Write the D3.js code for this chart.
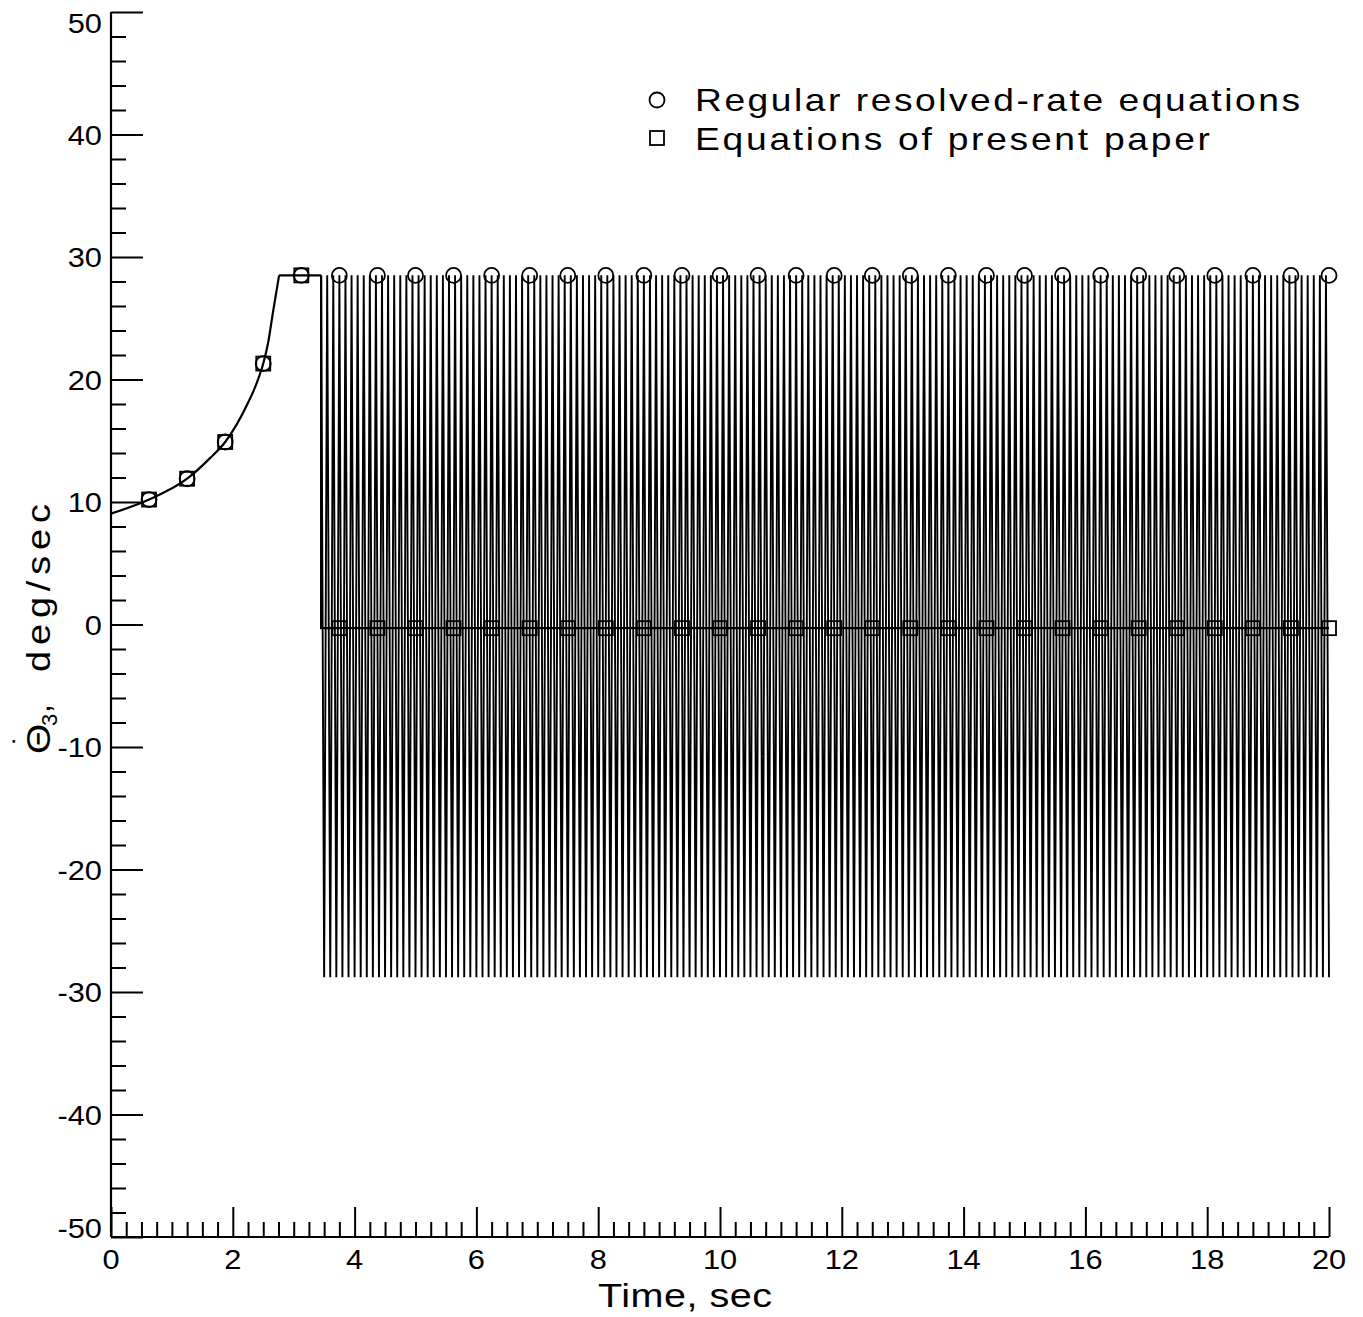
<!DOCTYPE html>
<html>
<head>
<meta charset="utf-8">
<script src="https://cdn.jsdelivr.net/npm/d3@7"></script>
<style>
  html, body { margin: 0; padding: 0; background: #fff; }
  svg { display: block; }
  text { font-family: "Liberation Sans", Arial, sans-serif; fill: #000; }
</style>
</head>
<body>
<svg id="chart" width="1363" height="1317"></svg>
<script>
// ---- data ----
// Start-up transient shared by both solutions (time in sec, rate in deg/sec)
const startupTimes  = [0, 0.625, 1.25, 1.63, 1.875, 2.23, 2.4, 2.5, 2.58, 2.66, 2.76];
const startupValues = [9.05, 10.2, 11.9, 13.6, 14.9, 17.9, 19.8, 21.3, 23.0, 25.5, 28.5];

// Rate-limited plateau
const plateauTimes  = [2.76, 3.45];
const plateauValues = [28.5, 28.5];

// Regular resolved-rate equations: chatter between the rate limits, one value per 0.05 s step from t = 3.50 s
const chatterStart = 3.50;
const chatterStep = 0.05;
const chatterValues = [
  -28.8, 28.5, -28.8, 28.5, -28.8, 28.5, -28.8, 28.5, -28.8, 28.5, -28.8, 28.5, -28.8, 28.5, -28.8, 28.5, -28.8, 28.5, -28.8, 28.5,
  -28.8, 28.5, -28.8, 28.5, -28.8, 28.5, -28.8, 28.5, -28.8, 28.5, -28.8, 28.5, -28.8, 28.5, -28.8, 28.5, -28.8, 28.5, -28.8, 28.5,
  -28.8, 28.5, -28.8, 28.5, -28.8, 28.5, -28.8, 28.5, -28.8, 28.5, -28.8, 28.5, -28.8, 28.5, -28.8, 28.5, -28.8, 28.5, -28.8, 28.5,
  -28.8, 28.5, -28.8, 28.5, -28.8, 28.5, -28.8, 28.5, -28.8, 28.5, -28.8, 28.5, -28.8, 28.5, -28.8, 28.5, -28.8, 28.5, -28.8, 28.5,
  -28.8, 28.5, -28.8, 28.5, -28.8, 28.5, -28.8, 28.5, -28.8, 28.5, -28.8, 28.5, -28.8, 28.5, -28.8, 28.5, -28.8, 28.5, -28.8, 28.5,
  -28.8, 28.5, -28.8, 28.5, -28.8, 28.5, -28.8, 28.5, -28.8, 28.5, -28.8, 28.5, -28.8, 28.5, -28.8, 28.5, -28.8, 28.5, -28.8, 28.5,
  -28.8, 28.5, -28.8, 28.5, -28.8, 28.5, -28.8, 28.5, -28.8, 28.5, -28.8, 28.5, -28.8, 28.5, -28.8, 28.5, -28.8, 28.5, -28.8, 28.5,
  -28.8, 28.5, -28.8, 28.5, -28.8, 28.5, -28.8, 28.5, -28.8, 28.5, -28.8, 28.5, -28.8, 28.5, -28.8, 28.5, -28.8, 28.5, -28.8, 28.5,
  -28.8, 28.5, -28.8, 28.5, -28.8, 28.5, -28.8, 28.5, -28.8, 28.5, -28.8, 28.5, -28.8, 28.5, -28.8, 28.5, -28.8, 28.5, -28.8, 28.5,
  -28.8, 28.5, -28.8, 28.5, -28.8, 28.5, -28.8, 28.5, -28.8, 28.5, -28.8, 28.5, -28.8, 28.5, -28.8, 28.5, -28.8, 28.5, -28.8, 28.5,
  -28.8, 28.5, -28.8, 28.5, -28.8, 28.5, -28.8, 28.5, -28.8, 28.5, -28.8, 28.5, -28.8, 28.5, -28.8, 28.5, -28.8, 28.5, -28.8, 28.5,
  -28.8, 28.5, -28.8, 28.5, -28.8, 28.5, -28.8, 28.5, -28.8, 28.5, -28.8, 28.5, -28.8, 28.5, -28.8, 28.5, -28.8, 28.5, -28.8, 28.5,
  -28.8, 28.5, -28.8, 28.5, -28.8, 28.5, -28.8, 28.5, -28.8, 28.5, -28.8, 28.5, -28.8, 28.5, -28.8, 28.5, -28.8, 28.5, -28.8, 28.5,
  -28.8, 28.5, -28.8, 28.5, -28.8, 28.5, -28.8, 28.5, -28.8, 28.5, -28.8, 28.5, -28.8, 28.5, -28.8, 28.5, -28.8, 28.5, -28.8, 28.5,
  -28.8, 28.5, -28.8, 28.5, -28.8, 28.5, -28.8, 28.5, -28.8, 28.5, -28.8, 28.5, -28.8, 28.5, -28.8, 28.5, -28.8, 28.5, -28.8, 28.5,
  -28.8, 28.5, -28.8, 28.5, -28.8, 28.5, -28.8, 28.5, -28.8, 28.5, -28.8, 28.5, -28.8, 28.5, -28.8, 28.5, -28.8, 28.5, -28.8, 28.5,
  -28.8, 28.5, -28.8, 28.5, -28.8, 28.5, -28.8, 28.5, -28.8, 28.5,
  -28.8
];

// Equations of present paper: settles just below zero after the plateau
const presentTailTimes  = [3.45, 20];
const presentTailValues = [-0.3, -0.3];

// Symbol positions
const markerTimes = [0.625, 1.25, 1.875, 2.5, 3.125, 3.75, 4.375, 5, 5.625, 6.25, 6.875, 7.5, 8.125, 8.75, 9.375, 10,
                     10.625, 11.25, 11.875, 12.5, 13.125, 13.75, 14.375, 15, 15.625, 16.25, 16.875, 17.5, 18.125, 18.75, 19.375, 20];
const regularMarkerValues = [10.2, 11.9, 14.9, 21.3, 28.5, 28.5, 28.5, 28.5, 28.5, 28.5, 28.5, 28.5, 28.5, 28.5, 28.5, 28.5,
                             28.5, 28.5, 28.5, 28.5, 28.5, 28.5, 28.5, 28.5, 28.5, 28.5, 28.5, 28.5, 28.5, 28.5, 28.5, 28.5];
const presentMarkerValues = [10.2, 11.9, 14.9, 21.3, 28.5, -0.3, -0.3, -0.3, -0.3, -0.3, -0.3, -0.3, -0.3, -0.3, -0.3, -0.3,
                             -0.3, -0.3, -0.3, -0.3, -0.3, -0.3, -0.3, -0.3, -0.3, -0.3, -0.3, -0.3, -0.3, -0.3, -0.3, -0.3];

// Axis ticks
const xMajorTicks = [0, 2, 4, 6, 8, 10, 12, 14, 16, 18, 20];
const yMajorTicks = [50, 40, 30, 20, 10, 0, -10, -20, -30, -40, -50];
const legendLabels = ["Regular resolved-rate equations", "Equations of present paper"];

// ---- drawing ----
const svg = d3.select("#chart");
const x = d3.scaleLinear().domain([0, 20]).range([111, 1329]);
const y = d3.scaleLinear().domain([-50, 50]).range([1237, 12]);

const zip = (ts, vs) => ts.map((t, i) => [t, vs[i]]);
const line = d3.line().x(d => x(d[0])).y(d => y(d[1]));
const smooth = d3.line().x(d => x(d[0])).y(d => y(d[1])).curve(d3.curveMonotoneX);

// Regular solution: chatter band
const chatter = chatterValues.map((v, i) => [chatterStart + i * chatterStep, v]);
svg.append("path")
  .attr("d", line([[plateauTimes[1], plateauValues[1]], ...chatter]))
  .attr("fill", "none").attr("stroke", "#000").attr("stroke-width", 1.9);

// Shared start-up curve and plateau
svg.append("path").attr("d", smooth(zip(startupTimes, startupValues)))
  .attr("fill", "none").attr("stroke", "#000").attr("stroke-width", 2.2);
svg.append("path").attr("d", line(zip(plateauTimes, plateauValues)))
  .attr("fill", "none").attr("stroke", "#000").attr("stroke-width", 2.2);

// Present-paper solution
svg.append("path")
  .attr("d", line([[plateauTimes[1], plateauValues[1]], ...zip(presentTailTimes, presentTailValues)]))
  .attr("fill", "none").attr("stroke", "#000").attr("stroke-width", 2.2);

// Symbols
svg.append("g").selectAll("circle").data(zip(markerTimes, regularMarkerValues)).join("circle")
  .attr("cx", d => x(d[0])).attr("cy", d => y(d[1])).attr("r", 7.5)
  .attr("fill", "none").attr("stroke", "#000").attr("stroke-width", 1.8);
svg.append("g").selectAll("rect").data(zip(markerTimes, presentMarkerValues)).join("rect")
  .attr("x", d => x(d[0]) - 7).attr("y", d => y(d[1]) - 7).attr("width", 14).attr("height", 14)
  .attr("fill", "none").attr("stroke", "#000").attr("stroke-width", 1.8);

// Axes: ticks point inward, minor ticks between majors
const axisStyle = g => {
  g.select(".domain").remove();
  g.selectAll(".tick line").attr("stroke", "#000").attr("stroke-width", 2);
  g.selectAll(".tick text").remove();
};
svg.append("g").attr("transform", "translate(111,0)")
  .call(d3.axisRight(y).tickValues(yMajorTicks).tickSize(32)).call(axisStyle);
svg.append("g").attr("transform", "translate(111,0)")
  .call(d3.axisRight(y).tickValues(d3.range(-48, 50, 2).filter(v => v % 10 !== 0)).tickSize(15)).call(axisStyle);
svg.append("g").attr("transform", "translate(0,1237)")
  .call(d3.axisTop(x).tickValues(xMajorTicks).tickSize(30)).call(axisStyle);
svg.append("g").attr("transform", "translate(0,1237)")
  .call(d3.axisTop(x).tickValues(d3.range(0.25, 20, 0.25).filter(v => v % 2 !== 0)).tickSize(15)).call(axisStyle);

// Axis lines
svg.append("line").attr("x1", x(0)).attr("x2", x(0)).attr("y1", y(50)).attr("y2", y(-50))
  .attr("stroke", "#000").attr("stroke-width", 2.2);
svg.append("line").attr("x1", x(0)).attr("x2", x(20)).attr("y1", y(-50)).attr("y2", y(-50))
  .attr("stroke", "#000").attr("stroke-width", 2.2);

// Tick labels (slightly widened glyphs)
svg.append("g").selectAll("text").data(yMajorTicks).join("text")
  .attr("transform", d => `translate(102,${y(d) + 10 + (d === 50 ? 11 : d === -50 ? -9 : 0)}) scale(1.1,1)`)
  .attr("text-anchor", "end").attr("font-size", 28)
  .text(d => d < 0 ? "-" + Math.abs(d) : d);
svg.append("g").selectAll("text").data(xMajorTicks).join("text")
  .attr("transform", d => `translate(${x(d)},1269) scale(1.1,1)`)
  .attr("text-anchor", "middle").attr("font-size", 28)
  .text(d => d);

// Wide-glyph text helper: horizontal stretch plus fixed overall length
function wideText(parent, tx, ty, str, size, width, sx) {
  return parent.append("text")
    .attr("transform", `translate(${tx},${ty}) scale(${sx},1)`)
    .attr("font-size", size)
    .attr("textLength", width / sx).attr("lengthAdjust", "spacing")
    .text(str);
}

// Axis titles
wideText(svg, 598, 1307, "Time,  sec", 33, 174, 1.2);

const yt = svg.append("g").attr("transform", "translate(50,0) rotate(-90)");
yt.append("text").attr("transform", "translate(-754,0) scale(1.15,1)")
  .attr("font-size", 34).text("\u0398");
yt.append("text").attr("transform", "translate(-740,-16)")
  .attr("font-size", 30).attr("text-anchor", "middle").text("\u02D9");
yt.append("text").attr("x", -726).attr("y", 7).attr("font-size", 22).text("3");
yt.append("text").attr("x", -713).attr("y", 0).attr("font-size", 32).text(",");
wideText(yt, -672, 0, "deg/sec", 33, 168, 1.15);

// Legend
const legend = svg.append("g");
legend.append("circle").attr("cx", 657).attr("cy", 100).attr("r", 7.5)
  .attr("fill", "none").attr("stroke", "#000").attr("stroke-width", 1.8);
legend.append("rect").attr("x", 650).attr("y", 131).attr("width", 14).attr("height", 14)
  .attr("fill", "none").attr("stroke", "#000").attr("stroke-width", 1.8);
wideText(legend, 695, 111, legendLabels[0], 31, 605, 1.2);
wideText(legend, 695, 150, legendLabels[1], 31, 515, 1.2);
</script>
</body>
</html>
